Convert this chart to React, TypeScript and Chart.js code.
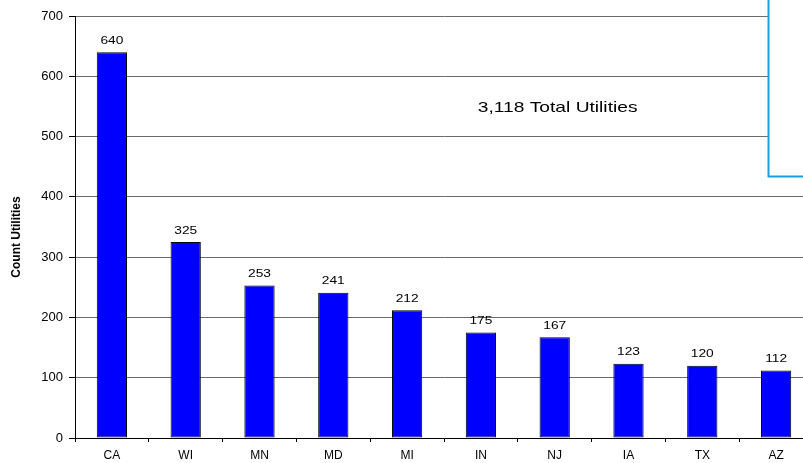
import React, { useEffect, useRef } from "react";
import { Chart, registerables } from "chart.js";

Chart.register(...registerables);

const categories = ["CA", "WI", "MN", "MD", "MI", "IN", "NJ", "IA", "TX", "AZ"];
const counts = [640, 325, 253, 241, 212, 175, 167, 123, 120, 112];
const yTicks = [0, 100, 200, 300, 400, 500, 600, 700];
const annotationText = "3,118 Total Utilities";
const yTitle = "Count Utilities";

const FONT = "'Liberation Sans', Arial, sans-serif";

const overlayPlugin = {
  id: "overlay",
  afterDatasetsDraw(chart: any) {
    const ctx = chart.ctx;
    const meta = chart.getDatasetMeta(0);
    ctx.save();
    ctx.fillStyle = "#000";
    ctx.font = `11px ${FONT}`;
    ctx.textAlign = "center";
    ctx.textBaseline = "bottom";
    meta.data.forEach((bar: any, i: number) => {
      ctx.save();
      ctx.translate(bar.x, bar.y - 6);
      ctx.scale(1.25, 1);
      ctx.fillText(String(counts[i]), 0, 0);
      ctx.restore();
    });
    ctx.restore();
  },
  afterDraw(chart: any) {
    const ctx = chart.ctx;
    const xs = chart.scales.x;
    const ys = chart.scales.y;
    const area = chart.chartArea;
    ctx.save();
    // y axis title
    ctx.save();
    ctx.translate(17, (area.top + area.bottom) / 2 + 10);
    ctx.rotate(-Math.PI / 2);
    ctx.fillStyle = "#000";
    ctx.font = `bold 12px ${FONT}`;
    ctx.textAlign = "center";
    ctx.textBaseline = "middle";
    ctx.fillText(yTitle, 0, 0);
    ctx.restore();
    // annotation text
    ctx.fillStyle = "#000";
    ctx.font = `15px ${FONT}`;
    ctx.textAlign = "center";
    ctx.textBaseline = "middle";
    const tx = xs.getPixelForValue(6.04);
    const ty = ys.getPixelForValue(547);
    ctx.save();
    ctx.translate(tx, ty);
    ctx.scale(1.28, 1);
    ctx.fillText(annotationText, 0, 0);
    ctx.restore();
    // partially visible box (top right)
    const bx = Math.round(xs.getPixelForValue(8.89)) + 0.5;
    const by = Math.round(ys.getPixelForValue(433)) - 0.5;
    ctx.fillStyle = "#fff";
    ctx.fillRect(bx, -10, chart.width - bx + 10, by + 10);
    ctx.strokeStyle = "#1a9fdc";
    ctx.lineWidth = 2;
    ctx.strokeRect(bx, -10, chart.width - bx + 10, by + 10);
    ctx.restore();
  },
};

export default function App() {
  const ref = useRef<HTMLCanvasElement>(null);
  useEffect(() => {
    if (!ref.current) return;
    const chart = new Chart(ref.current, {
      type: "bar",
      data: {
        labels: categories,
        datasets: [
          {
            data: counts,
            backgroundColor: "#0000FF",
            borderColor: "#000",
            borderWidth: 1,
            borderSkipped: false,
            barPercentage: 0.41,
            categoryPercentage: 1,
          },
        ],
      },
      options: {
        animation: false,
        responsive: false,
        devicePixelRatio: 1,
        layout: { padding: { top: 16, left: 0, right: 0, bottom: 0 } },
        plugins: {
          legend: { display: false },
          tooltip: { enabled: false },
        },
        scales: {
          x: {
            afterFit: (s: any) => {
              s.height = 25;
            },
            grid: {
              offset: true,
              drawOnChartArea: false,
              drawTicks: true,
              tickLength: 4,
              tickColor: "#000",
            },
            border: { color: "#000", width: 1 },
            ticks: {
              color: "#000",
              font: { family: FONT, size: 12 },
              padding: 6,
              maxRotation: 0,
              autoSkip: false,
            },
          },
          y: {
            min: 0,
            max: 700,
            afterFit: (s: any) => {
              s.width = 75;
            },
            afterBuildTicks: (s: any) => {
              s.ticks = yTicks.map((v) => ({ value: v }));
            },
            grid: {
              color: "#6a6a6a",
              lineWidth: 1,
              drawTicks: true,
              tickLength: 6,
              tickColor: "#000",
            },
            border: { color: "#000", width: 1 },
            ticks: {
              color: "#000",
              font: { family: FONT, size: 13 },
              padding: 6,
            },
          },
        },
      },
      plugins: [overlayPlugin],
    });
    return () => chart.destroy();
  }, []);
  return (
    <div
      style={{
        position: "absolute",
        left: 0,
        top: 0,
        width: 803,
        height: 463,
        overflow: "hidden",
        background: "#fff",
      }}
    >
      <canvas ref={ref} width={813} height={463} style={{ display: "block" }} />
    </div>
  );
}
